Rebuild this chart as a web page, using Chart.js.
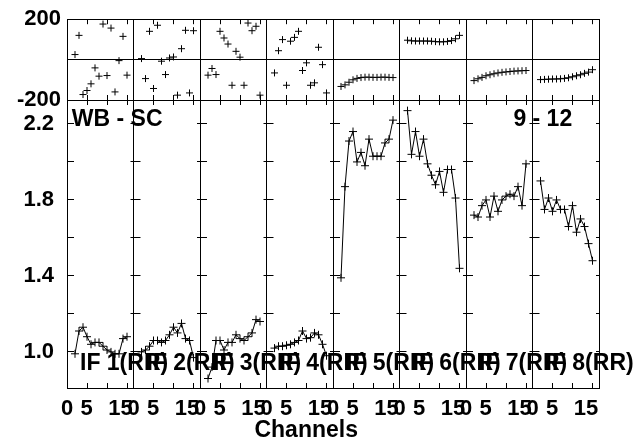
<!DOCTYPE html>
<html><head><meta charset="utf-8">
<script src="https://cdn.jsdelivr.net/npm/chart.js@4.4.1/dist/chart.umd.min.js"></script>
<style>
html,body{margin:0;padding:0;background:#fff;}
#wrap{position:relative;width:640px;height:442px;background:#fff;}
canvas{position:absolute;left:0;top:0;}
</style></head><body>
<div id="wrap"><canvas id="amp" width="640" height="442"></canvas><canvas id="phase" width="640" height="442"></canvas></div>
<script>
// ---------- data ----------
const channels = [2,3,4,5,6,7,8,9,10,11,12,13,14,15];
const ifLabels = ['IF 1(RR)','IF 2(RR)','IF 3(RR)','IF 4(RR)','IF 5(RR)','IF 6(RR)','IF 7(RR)','IF 8(RR)'];

const ampIF1 = [0.99,1.11,1.13,1.08,1.04,1.05,1.05,1.03,1.01,1.00,0.99,0.99,1.07,1.08];
const ampIF2 = [1.00,1.01,1.03,1.06,1.06,1.05,1.06,1.09,1.13,1.10,1.15,1.07,1.06,0.97];
const ampIF3 = [0.86,0.92,1.06,1.06,1.01,1.05,1.05,1.09,1.07,1.06,1.08,1.10,1.17,1.16];
const ampIF4 = [1.02,1.03,1.03,1.035,1.04,1.05,1.06,1.11,1.07,1.075,1.10,1.09,1.04,0.98];
const ampIF5 = [1.39,1.87,2.11,2.16,2.00,2.05,1.98,2.12,2.03,2.03,2.03,2.10,2.12,2.22];
const ampIF6 = [2.27,2.04,2.16,2.03,2.12,1.99,1.93,1.88,1.95,1.84,1.96,1.96,1.81,1.44];
const ampIF7 = [1.72,1.71,1.77,1.80,1.71,1.82,1.74,1.80,1.82,1.83,1.82,1.87,1.77,1.99];
const ampIF8 = [1.90,1.75,1.81,1.74,1.80,1.75,1.75,1.66,1.77,1.63,1.70,1.66,1.57,1.48];

const phaseIF1 = [25,120,-173,-153,-120,-41,-82,176,-79,156,-160,-5,115,-77];
const phaseIF2 = [5,-94,140,-143,170,-8,-74,8,13,-176,54,145,-165,143];
const phaseIF3 = [-77,-44,-74,140,107,77,-127,41,12,-127,181,143,165,-176];
const phaseIF4 = [-66,44,99,-127,91,110,140,-54,-16,-127,-115,61,-25,-165];
const phaseIF5 = [-133,-125,-112,-100,-93,-89,-87,-87,-88,-88,-87,-87,-88,-89];
const phaseIF6 = [96,93,92,92,92,92,91,89,88,88,90,94,103,120];
const phaseIF7 = [-104,-95,-88,-80,-75,-70,-66,-63,-61,-59,-57,-56,-55,-54];
const phaseIF8 = [-99,-98,-97,-96,-96,-95,-93,-90,-85,-80,-75,-68,-62,-50];

const ampTickValues = [1.0,1.2,1.4,1.6,1.8,2.0,2.2];
const ampTickLabels = ['1.0','','1.4','','1.8','','2.2'];
const phaseTickValues = [-200,0,200];
const phaseTickLabels = ['-200','','200'];
const chanTickValues = [0,5,10,15];
const chanTickLabels = ['0','5','','15'];
const xTitle = 'Channels';
const cornerLeft = 'WB - SC';
const cornerRight = '9 - 12';

// ---------- layout ----------
const NPANEL = 8;
const PANEL = 16.625;            // channel span of one panel
const PLOT_L = 67, PLOT_R = 599;
const PANEL_PX = (PLOT_R - PLOT_L) / NPANEL;
const FONT = "'Liberation Sans', Arial, sans-serif";
const chanLabelShift = [0, -0.1, 0, -1.6];

const ampSets = [ampIF1,ampIF2,ampIF3,ampIF4,ampIF5,ampIF6,ampIF7,ampIF8];
const phaseSets = [phaseIF1,phaseIF2,phaseIF3,phaseIF4,phaseIF5,phaseIF6,phaseIF7,phaseIF8];

function panelData(vals, p) {
  return vals.map((v, i) => ({x: p * PANEL + channels[i], y: v}));
}
function xTicks(scale) {
  const t = [];
  for (let p = 0; p < NPANEL; p++) for (const v of chanTickValues) t.push({value: p * PANEL + v});
  t.push({value: NPANEL * PANEL});
  scale.ticks = t;
}
const isBoundary = ctx => ctx.index % chanTickValues.length === 0;

function tickAxis(position, drawArea) {
  return {
    type: 'linear', position, min: 0, max: NPANEL * PANEL, weight: 0,
    afterBuildTicks: xTicks,
    afterFit: s => { s.height = 0; },
    grid: {
      display: true, drawOnChartArea: drawArea, drawTicks: true,
      color: ctx => isBoundary(ctx) ? '#000' : 'rgba(0,0,0,0)',
      tickColor: '#000', tickLength: -5, lineWidth: 1, tickWidth: 1
    },
    border: {display: true, color: '#000', width: 1},
    ticks: {display: false, autoSkip: false}
  };
}
function labelAxis() {
  return {
    type: 'linear', position: 'bottom', min: 0, max: NPANEL * PANEL, weight: 1,
    afterBuildTicks: scale => {
      const t = [];
      for (let p = 0; p < NPANEL; p++) chanTickValues.forEach((v, k) => {
        if (chanTickLabels[k] !== '') t.push({value: p * PANEL + v + chanLabelShift[k], label: chanTickLabels[k]});
      });
      scale.ticks = t;
    },
    afterFit: s => { s.height = 54; },
    grid: {display: false, drawTicks: false},
    border: {display: false},
    ticks: {
      autoSkip: false, maxRotation: 0, minRotation: 0, padding: 8, color: '#000',
      font: {family: FONT, size: 22, weight: 'bold'},
      callback: function(v, i, ticks) { return ticks[i].label; }
    }
  };
}
const base = {
  responsive: false, animation: false, devicePixelRatio: 1, events: [],
  plugins: {legend: {display: false}, tooltip: {enabled: false}}
};

const textPlugin = {
  id: 'panelText',
  afterDatasetsDraw(chart) {
    const {ctx} = chart;
    const x = chart.scales.x, y = chart.scales.y;
    ctx.save();
    ctx.fillStyle = '#000';
    ctx.textBaseline = 'middle';
    ctx.textAlign = 'left';
    ctx.font = 'bold 23px ' + FONT;
    ifLabels.forEach((t, p) => {
      ctx.fillText(t, x.getPixelForValue(p * PANEL + 3.25), y.getPixelForValue(0.94));
    });
    ctx.font = 'bold 23px ' + FONT;
    ctx.fillText(cornerLeft, x.getPixelForValue(1.2), y.getPixelForValue(2.222));
    ctx.textAlign = 'center';
    ctx.fillText(cornerRight, x.getPixelForValue(6 * PANEL + 19.2), y.getPixelForValue(2.222));
    ctx.font = 'bold 23px ' + FONT;
    ctx.fillText(xTitle, x.getPixelForValue(59.8), 431);
    ctx.restore();
  }
};

new Chart(document.getElementById('amp'), {
  type: 'scatter',
  data: {
    datasets: ampSets.map((vals, p) => ({
      data: panelData(vals, p), showLine: true,
      borderColor: '#000', borderWidth: 1, backgroundColor: '#000',
      pointStyle: 'cross', pointRadius: 4, pointBorderWidth: 1, pointBorderColor: '#000',
      xAxisID: 'x', yAxisID: 'y'
    }))
  },
  options: Object.assign({}, base, {
    layout: {padding: {top: 100, right: 640 - PLOT_R, bottom: 0, left: 0}},
    scales: {
      x: tickAxis('bottom', true),
      xTop: tickAxis('top', false),
      xLab: labelAxis(),
      y: {
        type: 'linear', position: 'left', min: 0.81, max: 2.326,
        afterBuildTicks: s => { s.ticks = ampTickValues.map(v => ({value: v})); },
        afterFit: s => { s.width = PLOT_L; },
        grid: {color: '#000', lineWidth: 1, drawTicks: false},
        border: {display: true, color: '#000', width: 1, dash: [10, PANEL_PX - 10], dashOffset: 4},
        ticks: {
          autoSkip: false, padding: 13, color: '#000',
          font: {family: FONT, size: 22, weight: 'bold'},
          callback: (v, i) => ampTickLabels[i]
        }
      }
    }
  }),
  plugins: [textPlugin]
});

new Chart(document.getElementById('phase'), {
  type: 'scatter',
  data: {
    datasets: phaseSets.map((vals, p) => ({
      data: panelData(vals, p), showLine: false,
      borderColor: '#000', backgroundColor: '#000',
      pointStyle: 'cross', pointRadius: 3.5, pointBorderWidth: 1, pointBorderColor: '#000',
      xAxisID: 'x', yAxisID: 'y'
    }))
  },
  options: Object.assign({}, base, {
    layout: {padding: {top: 19, right: 640 - PLOT_R, bottom: 442 - 100, left: 0}},
    scales: {
      x: tickAxis('bottom', true),
      xTop: tickAxis('top', false),
      y: {
        type: 'linear', position: 'left', min: -200, max: 200,
        afterBuildTicks: s => { s.ticks = phaseTickValues.map(v => ({value: v})); },
        afterFit: s => { s.width = PLOT_L; },
        grid: {color: '#000', lineWidth: 1, drawTicks: false},
        border: {display: true, color: '#000', width: 1},
        ticks: {
          autoSkip: false, padding: 6, color: '#000',
          font: {family: FONT, size: 22, weight: 'bold'},
          callback: (v, i) => phaseTickLabels[i]
        }
      }
    }
  })
});
</script>
</body></html>
